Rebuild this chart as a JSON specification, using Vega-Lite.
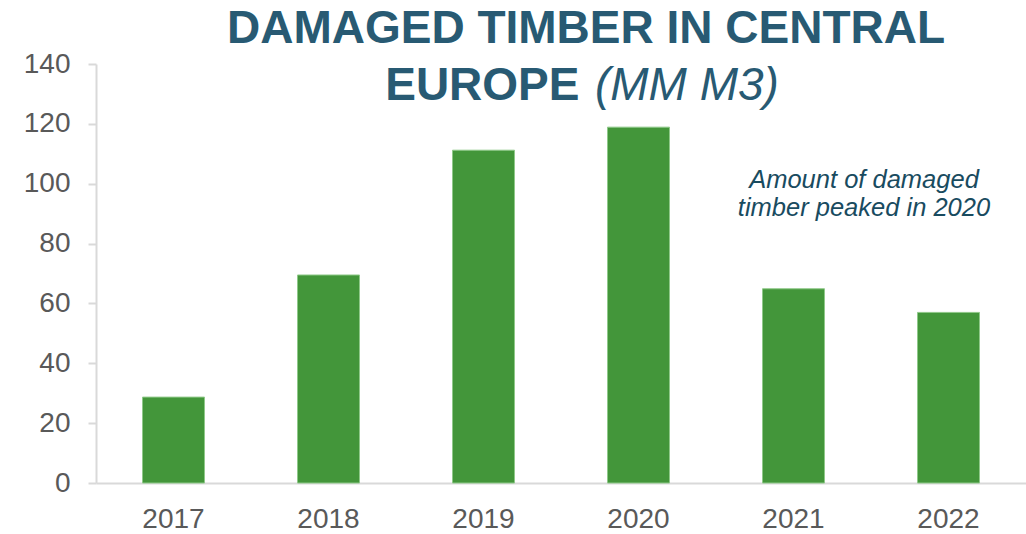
{
  "$schema": "https://vega.github.io/schema/vega-lite/v6.json",
  "width": 930,
  "height": 419,
  "autosize": {"type": "none"},
  "padding": {"left": 96, "top": 64, "right": 0, "bottom": 51},
  "background": "white",
  "config": {"view": {"stroke": null}, "font": "Liberation Sans"},
  "data": {
    "values": [
      {"year": "2017", "value": 28.7},
      {"year": "2018", "value": 69.5},
      {"year": "2019", "value": 111.2},
      {"year": "2020", "value": 118.9},
      {"year": "2021", "value": 64.9},
      {"year": "2022", "value": 57.0}
    ]
  },
  "layer": [
    {
      "mark": {"type": "bar", "color": "#43963a", "stroke": "#8fc989", "strokeWidth": 1},
      "encoding": {
        "x": {
          "field": "year",
          "type": "nominal",
          "sort": null,
          "scale": {"paddingInner": 0.6, "paddingOuter": 0.3},
          "axis": {
            "title": null,
            "labelAngle": 0,
            "ticks": false,
            "tickSize": 0,
            "domainColor": "#d9d9d9",
            "domainWidth": 2,
            "labelFontSize": 28,
            "labelColor": "#595959",
            "labelFont": "Liberation Sans",
            "labelPadding": 22
          }
        },
        "y": {
          "field": "value",
          "type": "quantitative",
          "scale": {"domain": [0, 140], "nice": false},
          "axis": {
            "title": null,
            "grid": false,
            "values": [0, 20, 40, 60, 80, 100, 120, 140],
            "domainColor": "#d9d9d9",
            "domainWidth": 2,
            "tickColor": "#d9d9d9",
            "tickWidth": 2,
            "tickSize": 8,
            "labelFontSize": 28,
            "labelColor": "#595959",
            "labelFont": "Liberation Sans",
            "labelPadding": 18
          }
        }
      }
    },
    {
      "data": {"values": [{"label": "DAMAGED TIMBER IN CENTRAL"}]},
      "mark": {"type": "text", "fontSize": 46, "fontWeight": "bold", "color": "#285a73", "align": "center", "baseline": "alphabetic"},
      "encoding": {
        "text": {"field": "label"},
        "x": {"datum": "2020", "bandPosition": -0.347},
        "y": {"datum": 147.1}
      }
    },
    {
      "data": {"values": [{"label": "EUROPE"}]},
      "mark": {"type": "text", "fontSize": 46, "fontWeight": "bold", "color": "#285a73", "align": "right", "baseline": "alphabetic"},
      "encoding": {
        "text": {"field": "label"},
        "x": {"datum": "2020", "bandPosition": -0.452},
        "y": {"datum": 128.1}
      }
    },
    {
      "data": {"values": [{"label": "(MM M3)"}]},
      "mark": {"type": "text", "fontSize": 46, "fontStyle": "italic", "color": "#285a73", "align": "left", "baseline": "alphabetic"},
      "encoding": {
        "text": {"field": "label"},
        "x": {"datum": "2020", "bandPosition": -0.202},
        "y": {"datum": 128.1}
      }
    },
    {
      "data": {"values": [{"label": "Amount of damaged\ntimber peaked in 2020"}]},
      "mark": {"type": "text", "fontSize": 25.5, "fontStyle": "italic", "color": "#194b5f", "align": "center", "baseline": "alphabetic", "lineBreak": "\n", "lineHeight": 28},
      "encoding": {
        "text": {"field": "label"},
        "x": {"datum": "2021", "bandPosition": 1.637},
        "y": {"datum": 98.7}
      }
    }
  ]
}
